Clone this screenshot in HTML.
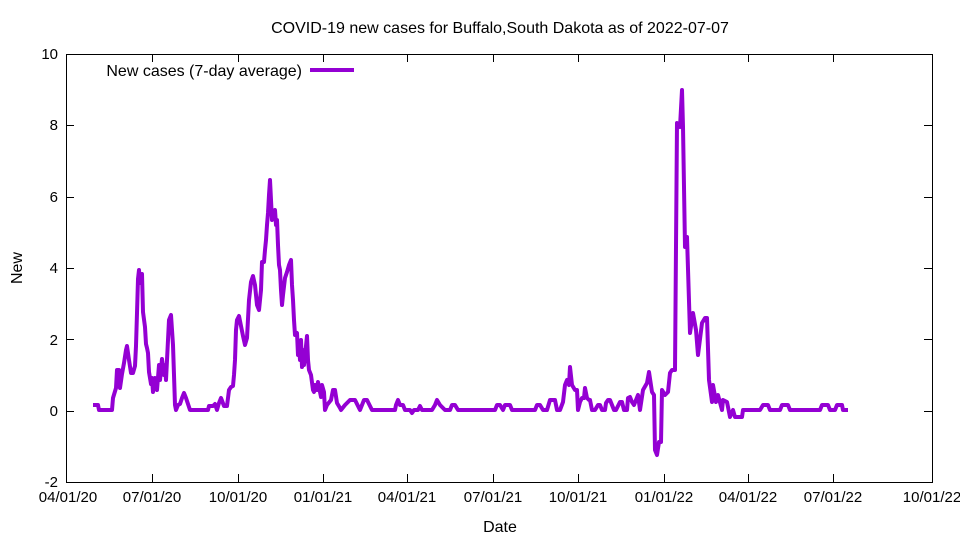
<!DOCTYPE html>
<html><head><meta charset="utf-8"><style>body{margin:0;background:#fff}svg{display:block}text{font-family:"Liberation Sans",sans-serif;font-size:15px;fill:#000}.b{font-size:16px}</style></head><body>
<svg width="960" height="540" viewBox="0 0 960 540">
<rect width="960" height="540" fill="#fff"/>
<text class="b" x="500" y="33" text-anchor="middle">COVID-19 new cases for Buffalo,South Dakota as of 2022-07-07</text>
<g stroke="#000" stroke-width="1" fill="none">
<rect x="66.5" y="54.5" width="866" height="428"/>
<path d="M66 482.5h8M932 482.5h-8M66 411.5h8M932 411.5h-8M66 339.5h8M932 339.5h-8M66 268.5h8M932 268.5h-8M66 197.5h8M932 197.5h-8M66 125.5h8M932 125.5h-8M66 54.5h8M932 54.5h-8"/>
<path d="M152.5 482v-8M152.5 54v8M238.5 482v-8M238.5 54v8M323.5 482v-8M323.5 54v8M407.5 482v-8M407.5 54v8M493.5 482v-8M493.5 54v8M578.5 482v-8M578.5 54v8M664.5 482v-8M664.5 54v8M748.5 482v-8M748.5 54v8M833.5 482v-8M833.5 54v8"/>
</g>
<g text-anchor="end">
<text x="58" y="487">-2</text><text x="58" y="416">0</text><text x="58" y="345">2</text><text x="58" y="273">4</text><text x="58" y="202">6</text><text x="58" y="130">8</text><text x="58" y="59">10</text>
</g>
<g text-anchor="middle">
<text x="68" y="502">04/01/20</text><text x="152" y="502">07/01/20</text><text x="238" y="502">10/01/20</text><text x="323" y="502">01/01/21</text><text x="407" y="502">04/01/21</text><text x="493" y="502">07/01/21</text><text x="578" y="502">10/01/21</text><text x="664" y="502">01/01/22</text><text x="748" y="502">04/01/22</text><text x="833" y="502">07/01/22</text><text x="932" y="502">10/01/22</text>
<text class="b" x="500" y="532">Date</text>
<text class="b" x="22" y="268" transform="rotate(-90 22 268)">New</text>
</g>
<text class="b" x="302" y="76" text-anchor="end">New cases (7-day average)</text>
<path d="M310 70h44" stroke="#9400d3" stroke-width="4"/>
<polyline fill="none" stroke="#9400d3" stroke-width="4" stroke-linejoin="round" points="93,405 98,405 99,410 112,410 113,398 116,388 117,370 119,370 120,388 122,374 124,363 126,350 127,346 129,360 131,373 133,373 135,366 136,346 137,313 138,279 139,270 140,283 142,274 143,312 145,327 146,344 147,348 148,353 149,372 151,384 152,378 153,392 155,378 157,390 159,365 160,380 162,359 164,375 165,365 166,380 168,340 169,320 171,315 173,345 175,405 176,410 178,405 180,404 182,398 184,393 186,398 188,404 190,410 208,410 209,406 213,406 215,404 217,410 219,403 221,398 224,406 227,406 229,390 231,387 233,386 234,375 235,360 236,330 237,320 239,316 241,326 243,336 245,345 247,338 249,300 251,282 253,276 255,285 257,305 259,310 261,290 262,262 264,262 265,250 266,240 267,225 268,213 269,195 270,180 271,200 272,220 273,215 275,210 276,225 277,220 278,245 279,265 280,270 281,290 282,305 283,295 285,278 287,272 289,265 291,260 292,285 293,300 294,320 295,335 297,333 298,355 299,345 300,360 301,340 302,367 303,350 304,365 306,346 307,336 308,360 309,370 311,375 313,390 314,392 315,385 317,390 318,382 320,392 321,397 322,385 324,392 325,410 327,405 331,400 333,390 335,390 337,403 340,408 341,410 345,405 350,400 355,400 360,410 364,400 367,400 372,410 395,410 396,405 398,400 400,405 403,405 405,410 410,410 412,413 414,410 418,410 420,406 422,410 432,410 435,405 437,400 440,405 445,410 450,410 452,405 455,405 458,410 495,410 497,405 500,405 503,410 505,405 510,405 512,410 535,410 537,405 540,405 543,410 547,410 550,400 555,400 557,410 560,410 563,402 565,385 567,380 569,385 570,367 572,385 575,390 577,390 578,410 580,402 582,398 584,398 585,388 587,398 589,400 590,400 592,410 595,410 598,405 600,405 602,410 605,410 606,403 608,400 610,400 612,405 614,410 616,410 618,406 620,402 622,402 624,410 627,410 628,398 630,397 632,402 634,405 636,400 638,395 640,410 643,390 647,383 649,372 652,392 654,395 655,450 657,455 659,442 661,442 662,390 665,395 668,392 670,373 672,370 675,370 677,123 680,127 682,90 683,127 685,247 687,237 690,333 693,313 696,330 698,355 702,323 705,318 707,318 709,380 712,402 713,385 716,402 718,395 722,410 723,400 727,402 730,417 733,410 735,417 742,417 743,410 760,410 763,405 768,405 770,410 780,410 782,405 788,405 790,410 820,410 822,405 828,405 830,410 835,410 837,405 842,405 843,410 848,410"/>
</svg>
</body></html>
